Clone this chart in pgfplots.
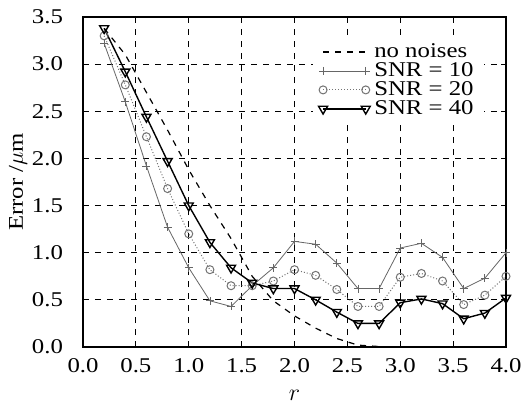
\documentclass[border=0pt]{standalone}
\usepackage{fontspec}
\setmainfont[FakeStretch=1.18]{Liberation Serif}
\usepackage{pgfplots}
\pgfplotsset{compat=1.18}
\usepackage{pgfplotstable}

\pgfplotstableread{
r    nonoise snr10 snr20 snr40
0.2  3.38    3.22  3.30  3.38
0.4  3.10    2.60  2.78  2.92
0.6  2.70    1.92  2.23  2.44
0.8  2.30    1.27  1.68  1.97
1.0  1.88    0.84  1.20  1.50
1.2  1.50    0.49  0.82  1.11
1.4  1.15    0.43  0.65  0.84
1.6  0.75    0.65  0.65  0.68
1.8  0.49    0.84  0.70  0.62
2.0  0.33    1.12  0.82  0.62
2.2  0.20    1.09  0.76  0.50
2.4  0.09    0.89  0.61  0.37
2.6  0.02    0.62  0.43  0.25
2.8  0.005   0.62  0.43  0.25
3.0  0.0     1.05  0.74  0.47
3.2  0.0     1.10  0.78  0.51
3.4  0.0     0.95  0.70  0.46
3.6  0.0     0.62  0.45  0.30
3.8  0.0     0.73  0.55  0.36
4.0  0.0     1.00  0.75  0.52
}\errdata

\begin{document}
\begin{tikzpicture}
\begin{axis}[
    scale only axis,
    width=211.5pt, height=165pt,
    xmin=0, xmax=4, ymin=0, ymax=3.5,
    xtick={0,0.5,1,1.5,2,2.5,3,3.5,4},
    ytick={0,0.5,1,1.5,2,2.5,3,3.5},
    xticklabel={\pgfmathprintnumber[fixed,fixed zerofill,precision=1,assume math mode=true]{\tick}},
    yticklabel={\pgfmathprintnumber[fixed,fixed zerofill,precision=1,assume math mode=true]{\tick}},
    yticklabel style={xshift=-6.5pt},
    xticklabel style={yshift=-2.2pt},
    font=\fontsize{10.5}{12}\selectfont,
    tick align=inside,
    major tick length=2.5pt,
    tick style={black, line width=0.5pt},
    axis line style={line width=0.8pt},
    grid=major,
    grid style={dashed, black, line width=0.4pt},
    xlabel={$r$},
    ylabel={Error /$\mu$m},
    every axis x label/.style={at={(axis description cs:0.5,-0.1455)}, anchor=center,
        font=\fontsize{12}{12}\selectfont},
    every axis y label/.style={at={(axis description cs:-0.1537,0.5)}, rotate=90, anchor=center},
    legend cell align=left,
    legend style={at={(0.948,0.945)}, anchor=north east, draw=none, fill=white,
        font=\fontsize{10.5}{12}\selectfont, row sep=-3pt},
    legend image code/.code={\draw[#1] plot coordinates {(0cm,0cm) (0.75cm,0cm)};},
]
\addplot[black, dashed, line width=0.6pt, no marks] table[x=r, y=nonoise] {\errdata};
\addlegendentry{no noises}
\addplot[black!60, line width=0.4pt, mark=+, mark size=2pt, mark options={solid}] table[x=r, y=snr10] {\errdata};
\addlegendentry{SNR = 10}
\addplot[black!55, densely dotted, line width=0.5pt, mark=o, mark size=2pt, mark options={solid}] table[x=r, y=snr20] {\errdata};
\addlegendentry{SNR = 20}
\addplot[black, line width=0.7pt, mark=triangle, mark size=2.6pt, mark options={solid, rotate=180}] table[x=r, y=snr40] {\errdata};
\addlegendentry{SNR = 40}
\end{axis}
\pgfresetboundingbox
\path ([shift={(-41.5pt,-32.5pt)}]current axis.south west) rectangle ([shift={(8.5pt,8.5pt)}]current axis.north east);
\end{tikzpicture}
\end{document}
